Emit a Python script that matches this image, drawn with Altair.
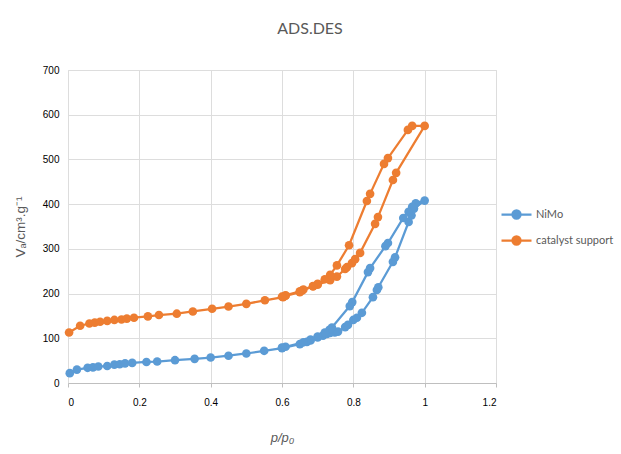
import altair as alt
import pandas as pd

# Isotherm points: adsorption branch (rising p/p0) followed by desorption branch (falling p/p0)
nimo_p = [0.005, 0.025, 0.055, 0.07, 0.085, 0.11, 0.13, 0.145, 0.16, 0.18, 0.22, 0.25,
          0.30, 0.355, 0.40, 0.45, 0.50, 0.55, 0.60, 0.65, 0.67, 0.68, 0.70, 0.715,
          0.726, 0.735, 0.748, 0.757, 0.777, 0.785, 0.80, 0.81, 0.824, 0.855, 0.866,
          0.87, 0.911, 0.917, 0.955, 0.963, 0.97, 1.0,
          0.975, 0.965, 0.955, 0.94, 0.897, 0.89, 0.847, 0.841, 0.797, 0.79, 0.74,
          0.733, 0.72, 0.70, 0.68, 0.66, 0.61, 0.60]
nimo_v = [22, 30, 34, 35, 37, 38, 41, 42, 44, 45, 47, 48,
          51, 54, 57, 61, 66, 72, 78, 87, 92, 95, 102, 106,
          110, 112, 113, 115, 125, 130, 141, 146, 157, 192, 208,
          214, 271, 281, 360, 375, 390, 408,
          402, 394, 383, 369, 313, 306, 257, 248, 181, 172, 124,
          119, 113, 104, 97, 91, 81, 79]

support_p = [0.003, 0.034, 0.06, 0.075, 0.09, 0.11, 0.13, 0.15, 0.165, 0.185, 0.224, 0.255,
             0.305, 0.35, 0.404, 0.45, 0.50, 0.552, 0.603, 0.61, 0.65, 0.657, 0.687, 0.70,
             0.735, 0.754, 0.777, 0.782, 0.796, 0.805, 0.819, 0.861, 0.869, 0.911, 0.92, 1.0,
             0.965, 0.953, 0.897, 0.886, 0.847, 0.838, 0.788, 0.754, 0.735, 0.72, 0.70,
             0.687, 0.66, 0.65, 0.61, 0.60]
support_v = [113, 128, 133, 135, 137, 139, 141, 142, 144, 146, 149, 152,
             155, 160, 166, 171, 177, 185, 192, 195, 203, 207, 216, 220,
             230, 238, 255, 259, 268, 277, 291, 356, 371, 454, 470, 575,
             575, 566, 503, 490, 423, 407, 308, 263, 242, 232, 222,
             217, 209, 205, 196, 193]

series_names = ["NiMo", "catalyst support"]
series_colors = ["#5B9BD5", "#ED7D31"]

x_ticks = [0, 0.2, 0.4, 0.6, 0.8, 1.0, 1.2]
y_ticks = [0, 100, 200, 300, 400, 500, 600, 700]

rows = []
for name, ps, vs in [(series_names[0], nimo_p, nimo_v), (series_names[1], support_p, support_v)]:
    for i, (p, v) in enumerate(zip(ps, vs)):
        rows.append({"series": name, "p": p, "v": v, "idx": i})
df = pd.DataFrame(rows)

FONT = "Lato"
GREY = "#595959"

x_enc = alt.X("p:Q", scale=alt.Scale(domain=[0, 1.2], nice=False),
              axis=alt.Axis(values=x_ticks, format="~g", title="p/p₀",
                            titleFontStyle="italic", titleFontWeight="normal",
                            titleFontSize=13, titleColor=GREY, titlePadding=24,
                            labelPadding=10, tickSize=4, tickColor="#bfbfbf",
                            domainColor="#bfbfbf", grid=True))
y_enc = alt.Y("v:Q", scale=alt.Scale(domain=[0, 700], nice=False),
              axis=alt.Axis(values=y_ticks, title="Vₐ/cm³.g⁻¹",
                            titleFontWeight="normal", titleFontSize=13.5,
                            titleColor=GREY, titlePadding=15, labelPadding=9,
                            ticks=False, domain=False, grid=True))

color_scale = alt.Scale(domain=series_names, range=series_colors)

# legend glyph: short line with a dot in the middle
legend_glyph = "M-1,0L1,0M-0.27,0A0.27,0.27,0,1,0,0.27,0A0.27,0.27,0,1,0,-0.27,0Z"
legend = alt.Legend(title=None, orient="none", legendX=432, legendY=128,
                    symbolType=legend_glyph, symbolSize=900, symbolStrokeWidth=2.25,
                    labelFont=FONT, labelFontSize=11, labelColor=GREY,
                    rowPadding=0, labelOffset=3)

lines = alt.Chart(df).mark_line(strokeWidth=2.25).encode(
    x=x_enc, y=y_enc,
    stroke=alt.Stroke("series:N", scale=color_scale, legend=legend),
    order="idx:Q",
    detail="series:N",
)

points = alt.Chart(df).mark_circle(size=75, opacity=1).encode(
    x=x_enc, y=y_enc,
    fill=alt.Fill("series:N", scale=color_scale, legend=legend),
)

chart = alt.layer(lines, points).properties(
    width=428, height=313,
    title=alt.TitleParams("ADS.DES", fontSize=16, font=FONT, color=GREY,
                          fontWeight="normal", anchor="middle", dx=28, offset=28),
    autosize=alt.AutoSizeParams(type="none"),
    padding={"left": 68, "top": 70, "right": 125, "bottom": 71},
).configure_view(stroke=None).configure_axis(
    labelFont=FONT, titleFont=FONT, labelFontSize=11, labelColor=GREY,
    gridColor="#d9d9d9", gridWidth=1,
).configure(background="white")

chart.save("out.html", embed_options={"renderer": "svg", "actions": False})
